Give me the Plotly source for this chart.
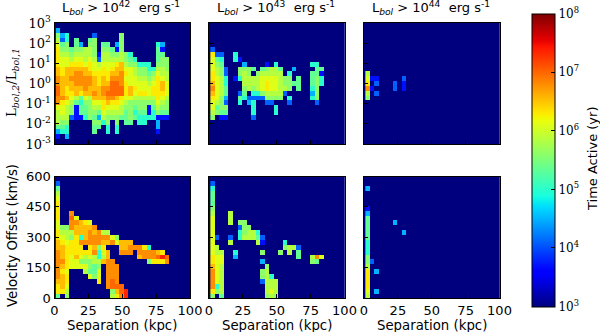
import numpy as np
import plotly.graph_objects as go

# log10(time active / yr) for each symbol used in the cell rows below
LEVELS = {'.': 3.0, '0': 3.7, '1': 4.1, '2': 4.5, '3': 5.0, '4': 5.35, '5': 5.6, '6': 5.85,
          '7': 6.1, '8': 6.3, '9': 6.55, 'a': 6.8, 'b': 7.0, 'c': 7.35}

# rows run top to bottom, columns left to right (separation bins)
ratio_42 = ["", "2", "523.....1.....5", "613.4..45.....5",
            "745.42.55.44.25.......32", "855455665.55405.......40",
            "86656666506655653.....44", "877677676166666543....455",
            "877888787677789655333.555", "9899999877878997765533665",
            "9899aa99888899a8765545766", "a99aaaaa9898aaa7776656876",
            "a999aaaa9899bba8777767897", "b98999a999aabbb8987778897",
            "b9889899a9abbbb8978878887", "aa976476999aa987766666876",
            "a876435577898876555555765", "7765044566877765545504655",
            "6765044554766664534403544", "6661003542655544543333000",
            "655.....5535.5.44.33..2..", "443.....44.3.3........2..",
            "233.....4..3.3........0..", "0.2", ""]
vel_42 = ["", "1", "4", "6", "7", "8", "8", "8..a", "8..b7", "7..aa987", "755a9999a",
          "8666999a9a66", "8765839aaaaa75", "98788aaaaa99a7999",
          "998888.8958...99aaa83", "a9888888a379..aaa.aaaa98.",
          "a98797676369......9aaabcb", "aa877555669aa.......5888a",
          "a987777545.aaa", "a87...6447.aaa", "a98....757.aaa", "998......8.aba",
          "897........abbb", "886.........59bc", "4.5.........68ac"]

ratio_43 = ["", "", "", "", "", "1", "811..3", "743..30",
            "754....2....0.3.......33", "7651..5554.45664..2....44",
            "8651..565.566666.3....440", "8763.0366667777655.4..453",
            "9763...6666787765544..453", "a764...56567877665.4..35.",
            "9764..14.33566661.....25.", "8752..4311115555.3....35.",
            "7651..3.23..11...1.....1", "7455.....3....3", "6544.....3....3", "5.00.....1", "", "", "", "", ""]
vel_43 = ["", "1", "3", "4", "4", "4", "5", "6...6", "7...6", "7...6.55", "7.....155",
          "7.....35663", "71..1.366641", "7...6.....60....3",
          "76..............5661", "766..3.....5...5.6.4",
          "877..2.............4..6a7", "877........2..........54",
          "976.........5", "a76........56", "a76........563", "a76........1666",
          "a36.........666", "856.........676", "5.4.........565"]

ratio_44 = ["", "", "", "", "", "", "", "", "", "", "6", "700.....1",
            "8.1...1.0", "a0....1.0", "6.1", "5", "", "", "", "", "", "", "", "", ""]
vel_44 = ["", "", "2", "", "", "", "0", "2", "4", "4.....2", "4", "4.......2",
          "4", "3", "3", "3", "5", "51", "6", "8.2", "8", "8", "8", "7.2", "6"]

panel_rows = [ratio_42, ratio_43, ratio_44, vel_42, vel_43, vel_44]
titles = ["42", "43", "44"]
ratio_ticks = [-3, -2, -1, 0, 1, 2, 3]
ratio_labels = ["10<sup>-3</sup>", "10<sup>-2</sup>", "10<sup>-1</sup>", "10<sup>0</sup>",
                "10<sup>1</sup>", "10<sup>2</sup>", "10<sup>3</sup>"]
vel_ticks = [0, 150, 300, 450, 600]
sep_ticks = [0, 25, 50, 75, 100]
cbar_ticks = [3, 4, 5, 6, 7, 8]
cbar_labels = ["10<sup>3</sup>", "10<sup>4</sup>", "10<sup>5</sup>", "10<sup>6</sup>",
               "10<sup>7</sup>", "10<sup>8</sup>"]

W, H = 600, 332
SANS = "DejaVu Sans"
SERIF = "DejaVu Serif"
N_COLS, N_ROWS = 30, 25
DX = 100 / 30

# pixel boxes of the panels (left, right) and (top, bottom)
col_px = [(54.5, 190), (209, 344.5), (364, 499.5)]
row_px = [(23, 144), (176.5, 298)]


def jet_scale(n=64):
    # matplotlib's old default colormap
    t = np.linspace(0, 1, n)
    r = np.interp(t, [0, .35, .66, .89, 1], [0, 0, 1, 1, .5])
    g = np.interp(t, [0, .125, .375, .64, .91, 1], [0, 0, 1, 1, 0, 0])
    b = np.interp(t, [0, .11, .34, .65, 1], [.5, 1, 1, 0, 0])
    return [[float(v), f"rgb({int(x*255)},{int(y*255)},{int(z*255)})"] for v, x, y, z in zip(t, r, g, b)]


def to_grid(rows):
    grid = np.full((N_ROWS, N_COLS), 3.0)
    for i, row in enumerate(rows):
        for j, ch in enumerate(row[:N_COLS]):
            grid[N_ROWS - 1 - i, j] = LEVELS[ch]
    return grid


fig = go.Figure()
layout = {}
annotations = []

for k, rows in enumerate(panel_rows):
    c, r = k % 3, k // 3
    suffix = "" if k == 0 else str(k + 1)
    top_row = r == 0
    y_lo, y_hi = (-3, 3) if top_row else (0, 600)
    dy = (y_hi - y_lo) / N_ROWS
    fig.add_trace(go.Heatmap(
        z=to_grid(rows),
        x0=1 + DX / 2, dx=DX,
        y0=y_lo + dy / 2, dy=dy,
        coloraxis="coloraxis",
        xaxis="x" + suffix, yaxis="y" + suffix,
        zsmooth=False,
    ))
    layout["xaxis" + suffix] = dict(
        domain=[col_px[c][0] / W, col_px[c][1] / W], range=[0, 100], anchor="y" + suffix,
        tickvals=sep_ticks, ticks="inside", ticklen=4, tickcolor="black",
        showticklabels=not top_row, tickfont=dict(family=SANS, size=13, color="black"),
        showgrid=False, zeroline=False, showline=True, linecolor="black", linewidth=1, mirror=True,
    )
    layout["yaxis" + suffix] = dict(
        domain=[1 - row_px[r][1] / H, 1 - row_px[r][0] / H], range=[y_lo, y_hi], anchor="x" + suffix,
        tickvals=ratio_ticks if top_row else vel_ticks,
        ticktext=ratio_labels if top_row else [str(v) for v in vel_ticks],
        ticks="inside", ticklen=4, tickcolor="black", showticklabels=c == 0,
        tickfont=dict(family=SERIF if top_row else SANS, size=13, color="black"),
        showgrid=False, zeroline=False, showline=True, linecolor="black", linewidth=1, mirror=True,
    )


def add_text(text, x, y, size=13.3, angle=0, family=SANS):
    annotations.append(dict(text=text, x=x / W, y=1 - y / H, xref="paper", yref="paper",
                            showarrow=False, textangle=angle, xanchor="center", yanchor="middle",
                            font=dict(family=family, size=size, color="black")))


for c, power in enumerate(titles):
    mid = sum(col_px[c]) / 2
    add_text(f"L<sub><i>bol</i></sub> &gt; 10<sup>{power}</sup>  erg s<sup>-1</sup>", mid - 1, 8, size=13)
    add_text("Separation (kpc)", mid, 325)
add_text("L<sub><i>bol,2</i></sub>/L<sub><i>bol,1</i></sub>", 12, 83, angle=-90, family=SERIF)
add_text("Velocity Offset (km/s)", 12, 236, angle=-90)
add_text("Time Active (yr)", 592, 159, size=13, angle=-90)

fig.update_layout(
    width=W, height=H, autosize=False,
    margin=dict(l=0, r=0, t=0, b=0, autoexpand=False),
    paper_bgcolor="white", plot_bgcolor="#00007f",
    showlegend=False,
    annotations=annotations,
    coloraxis=dict(
        cmin=3, cmax=8, colorscale=jet_scale(),
        colorbar=dict(
            x=531.5 / W, xanchor="left", xpad=0, ypad=0,
            y=1 - 160 / H, yanchor="middle", len=293 / H, lenmode="fraction",
            thickness=23, outlinecolor="black", outlinewidth=1,
            tickvals=cbar_ticks, ticktext=cbar_labels, ticks="inside", ticklen=4, tickcolor="black",
            tickfont=dict(family=SERIF, size=12, color="black"),
        ),
    ),
    **layout,
)

fig.write_html("out.html", config=dict(displayModeBar=False),
               post_script="document.body.style.margin='0';document.body.style.overflow='hidden';")
